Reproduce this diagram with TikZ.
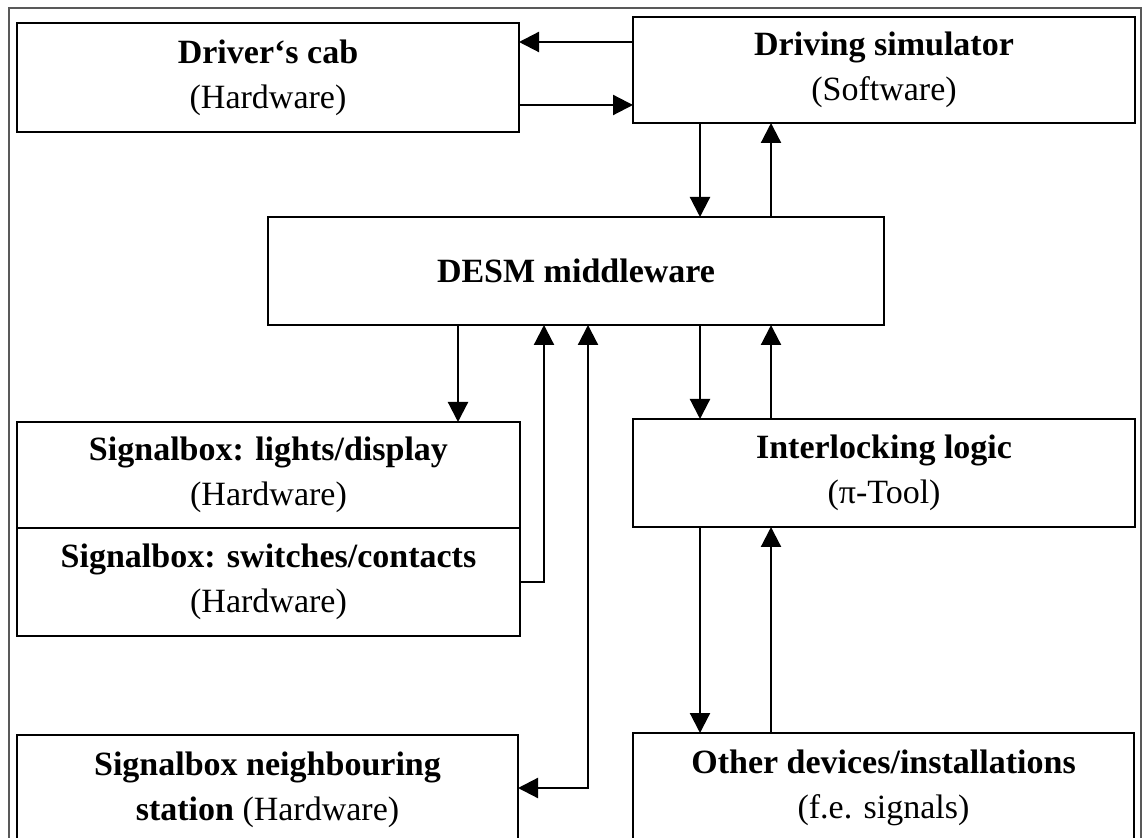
\documentclass[tikz,border=0pt]{standalone}
\usepackage{fontspec}
\setmainfont{Liberation Serif}
\usetikzlibrary{arrows.meta}
\usetikzlibrary{positioning}
\usetikzlibrary{calc}

\begin{document}
\begin{tikzpicture}[x=0.5pt,y=-0.5pt,>={Triangle[length=10pt,width=10pt]},
    main node/.style={draw,line width=1.4pt,outer sep=0pt,inner sep=0pt,align=center,
      font=\fontsize{17}{22.5}\selectfont,minimum width=251pt,minimum height=54pt},
    link/.style={->,line width=1.1pt}]

  \useasboundingbox (0,0) rectangle (1144,838);
  \clip (0,0) rectangle (1144,838);
  \draw[gray!70!black,line width=0.7pt] (9,8) rectangle (1141,900);

  \node[main node,minimum height=54.5pt] (cab) at (268,77.5) {\textbf{Driver‘s cab}\\(Hardware)};
  \node[main node,minimum height=53pt] (sim) at (884,70) {\textbf{Driving simulator}\\(Software)};
  \node[main node,minimum width=308pt] (desm) at (576,271) {\textbf{DESM middleware}};
  \node[main node,minimum width=251.5pt,minimum height=53pt] (lights) at (268.5,475)
    {\textbf{Signalbox: lights/display}\\(Hardware)};
  \node[main node,minimum width=251.5pt,below=0pt of lights] (switches)
    {\textbf{Signalbox: switches/contacts}\\(Hardware)};
  \node[main node] (ilock) at (884,473) {\textbf{Interlocking logic}\\(π-Tool)};
  \node[main node,minimum width=250.5pt,minimum height=55pt] (nbr) at (267.5,790)
    {\textbf{Signalbox neighbouring}\\\textbf{station} (Hardware)};
  \node[main node,minimum width=250.5pt,minimum height=55pt] (other) at (883.5,788)
    {\textbf{Other devices/installations}\\(f.e. signals)};

  % lanes and rows for the connectors
  \coordinate (lnA) at (700,0);
  \coordinate (lnB) at (771,0);
  \coordinate (lnL) at (458,0);
  \coordinate (lnS) at (544,0);
  \coordinate (lnN) at (588,0);
  \coordinate (rwA) at (0,42);
  \coordinate (rwB) at (0,105);
  \coordinate (rwS) at (0,582);
  \coordinate (rwN) at (0,788);

  \path[link]
    (sim.west |- rwA) edge (cab.east |- rwA)
    (cab.east |- rwB) edge (sim.west |- rwB)
    (sim.south -| lnA) edge (desm.north -| lnA)
    (desm.north -| lnB) edge (sim.south -| lnB)
    (desm.south -| lnL) edge (lights.north -| lnL)
    (desm.south -| lnA) edge (ilock.north -| lnA)
    (ilock.north -| lnB) edge (desm.south -| lnB)
    (ilock.south -| lnA) edge (other.north -| lnA)
    (other.north -| lnB) edge (ilock.south -| lnB)
  ;
  \draw[link] (switches.east |- rwS) -| (desm.south -| lnS);
  \draw[link,<->] (desm.south -| lnN) |- (nbr.east |- rwN);
\end{tikzpicture}
\end{document}
